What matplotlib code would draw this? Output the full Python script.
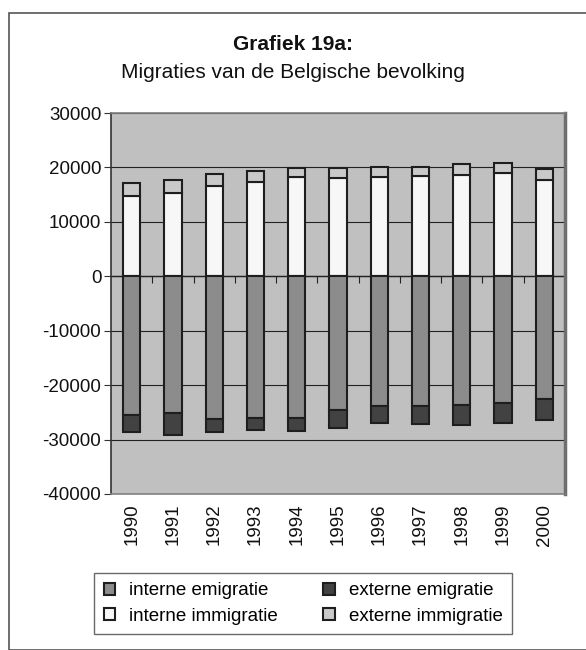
import matplotlib
matplotlib.use("Agg")
import matplotlib.pyplot as plt
import numpy as np
from matplotlib.patches import Rectangle, Patch

plt.rcParams['font.family'] = ['Liberation Sans', 'DejaVu Sans']
plt.rcParams['axes.unicode_minus'] = False

years = ["1990", "1991", "1992", "1993", "1994", "1995", "1996", "1997", "1998", "1999", "2000"]
interne_immigratie = [14800, 15300, 16550, 17350, 18150, 18050, 18300, 18350, 18700, 18950, 17750]
externe_immigratie = [2250, 2450, 2200, 2050, 1800, 1800, 1700, 1650, 1900, 1900, 2000]
interne_emigratie = [-25550, -25150, -26300, -26100, -26000, -24650, -23900, -23800, -23700, -23350, -22500]
externe_emigratie = [-3100, -4100, -2250, -2200, -2350, -3150, -3100, -3250, -3550, -3600, -3900]
yticks = [30000, 20000, 10000, 0, -10000, -20000, -30000, -40000]

c_int_em = "#8c8c8c"
c_ext_em = "#424242"
c_int_im = "#f7f7f7"
c_ext_im = "#c9c9c9"
edge = "#1e1e1e"
FS = 13.5

fig = plt.figure(figsize=(5.86, 6.5), dpi=100)
W, H = 586, 650
# outer frame
fig.patches.append(Rectangle((9 / W, 0), 1.2, (H - 13) / H, transform=fig.transFigure,
                             fill=False, edgecolor="#555555", linewidth=1.2))

ax = fig.add_axes([111 / W, (H - 494) / H, (565 - 111) / W, (494 - 113) / H])
ax.set_facecolor("#c0c0c0")
x = np.arange(len(years))
w = 0.42
kw = dict(width=w, edgecolor=edge, linewidth=1.5, zorder=3)
ax.bar(x, interne_immigratie, color=c_int_im, **kw)
ax.bar(x, externe_immigratie, bottom=interne_immigratie, color=c_ext_im, **kw)
ax.bar(x, interne_emigratie, color=c_int_em, **kw)
ax.bar(x, externe_emigratie, bottom=interne_emigratie, color=c_ext_em, **kw)

ax.set_xlim(-0.5, len(years) - 0.5)
ax.set_ylim(-40000, 30000)
ax.set_yticks(yticks)
ax.yaxis.grid(True, color="#222222", linewidth=0.8, zorder=1)
ax.set_axisbelow(True)
ax.tick_params(axis='y', direction='out', length=5, width=0.8, color="#333333",
               labelsize=FS, pad=2, labelcolor="#111111")
ax.set_xticks(x)
ax.set_xticklabels(years, rotation=90, fontsize=FS, color="#111111")
ax.tick_params(axis='x', length=0, pad=7)
for side in ["top", "bottom", "left"]:
    ax.spines[side].set_color("#808080")
    ax.spines[side].set_linewidth(1.2)
ax.spines["left"].set_color("#333333")
ax.spines["right"].set_color("#6e6e6e")
ax.spines["right"].set_linewidth(2.5)

# category axis at zero with boundary tick marks
sec = ax.secondary_xaxis(0, transform=ax.transData)
sec.set_xticks(np.arange(0.5, len(years) - 0.5, 1.0))
sec.set_xticklabels([])
sec.tick_params(axis='x', direction='out', length=5, width=0.8, color="#222222")
sec.spines["bottom"].set_color("#222222")
sec.spines["bottom"].set_linewidth(1.0)

fig.text(0.5, (H - 44) / H, "Grafiek 19a:", ha="center", va="center",
         fontsize=15, fontweight="bold", color="#111111")
fig.text(0.5, (H - 73) / H, "Migraties van de Belgische bevolking", ha="center",
         va="center", fontsize=15, color="#111111")

handles = [
    Patch(facecolor=c_int_em, edgecolor=edge, linewidth=1.5, label="interne emigratie"),
    Patch(facecolor=c_int_im, edgecolor=edge, linewidth=1.5, label="interne immigratie"),
    Patch(facecolor=c_ext_em, edgecolor=edge, linewidth=1.5, label="externe emigratie"),
    Patch(facecolor=c_ext_im, edgecolor=edge, linewidth=1.5, label="externe immigratie"),
]
leg = fig.legend(handles=handles, ncol=2, loc="center",
                 bbox_to_anchor=(303 / W, (H - 603.5) / H),
                 fontsize=FS, frameon=True, fancybox=False,
                 handlelength=0.62, handleheight=0.62, handletextpad=0.75,
                 columnspacing=2.4, labelspacing=0.45, borderpad=0.5)
leg.get_frame().set_edgecolor("#444444")
leg.get_frame().set_linewidth(1.0)

fig.savefig("out.png", dpi=100)
